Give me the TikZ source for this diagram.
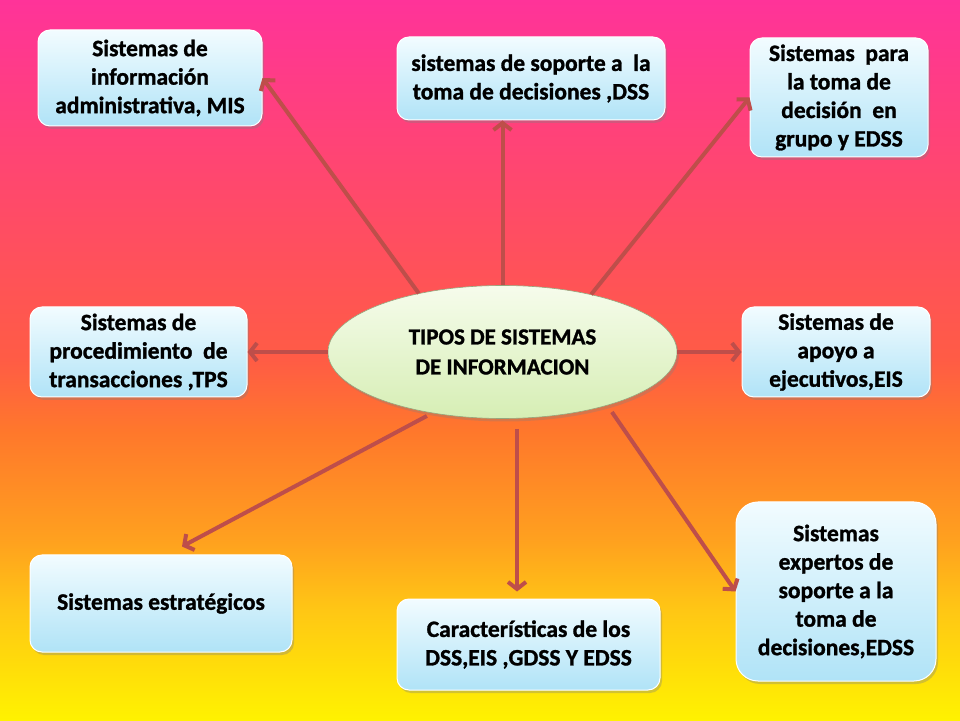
\documentclass[tikz,border=0pt]{standalone}
\usepackage{fontspec}
\setmainfont{Carlito}[BoldFeatures={FakeBold=1.2}]
\usetikzlibrary{shapes.geometric,arrows.meta,shadows,calc}
\definecolor{flechared}{RGB}{190,78,74}
\definecolor{boxtop}{RGB}{242,252,255}
\definecolor{boxbot}{RGB}{176,227,247}
\definecolor{elltop}{RGB}{246,252,236}
\definecolor{ellbot}{RGB}{214,238,180}
\pgfdeclareverticalshading{fondo}{100bp}{rgb(0bp)=(1,.95,0); rgb(25bp)=(1,.95,0); rgb(32.6bp)=(1,.78,.08); rgb(37.5bp)=(1,.63,.12); rgb(45bp)=(1,.47,.17); rgb(50bp)=(1,.36,.27); rgb(62.5bp)=(1,.28,.43); rgb(75bp)=(1,.2,.6); rgb(100bp)=(1,.2,.6)}

\begin{document}
\begin{tikzpicture}[x=1pt,y=1pt,
    sisbox/.style={rectangle,rounded corners=12pt,draw=white,line width=1pt,
      top color=boxtop,bottom color=boxbot,align=center,inner sep=2pt,
      font=\bfseries\fontsize{23.5}{28.5}\selectfont,
      drop shadow={shadow xshift=2pt,shadow yshift=-3pt,opacity=.35}},
    centro/.style={ellipse,draw=ellbot!70!black,line width=.6pt,top color=elltop,
      bottom color=ellbot,minimum width=349pt,minimum height=133pt,inner sep=0pt,
      align=center,font=\bfseries\fontsize{23}{30}\selectfont,
      drop shadow={shadow xshift=2pt,shadow yshift=-3pt,opacity=.3}},
    flecha/.style={draw=flechared,line width=4pt,-{Straight Barb[length=7pt,width=18pt]}}]
  \useasboundingbox (0,0) rectangle (960,720);
  \fill[shading=fondo] (0,0) rectangle (960,720);
  \node[centro] (c) at (502.5,368) {TIPOS DE SISTEMAS\\DE INFORMACION};
  \node[sisbox,minimum width=224pt,minimum height=96pt] (mis) at (150,642)
    {Sistemas de\\información\\administrativa, MIS};
  \node[sisbox,minimum width=268pt,minimum height=83pt] (dss) at (531,641.5)
    {sistemas de soporte a\ \ la\\toma de decisiones ,DSS};
  \node[sisbox,minimum width=178pt,minimum height=119pt] (gdss) at (839,622.5)
    {Sistemas\ \ para\\la toma de\\decisión\ \ en\\grupo y EDSS};
  \node[sisbox,minimum width=217pt,minimum height=90pt] (tps) at (138.5,368)
    {Sistemas de\\procedimiento\ \ de\\transacciones ,TPS};
  \node[sisbox,minimum width=188pt,minimum height=90pt] (eis) at (836,368)
    {Sistemas de\\apoyo a\\ejecutivos,EIS};
  \node[sisbox,minimum width=262pt,minimum height=97pt] (est) at (161,116.5)
    {Sistemas estratégicos};
  \node[sisbox,minimum width=263pt,minimum height=91pt] (car) at (528.5,75.5)
    {Características de los\\DSS,EIS ,GDSS Y EDSS};
  \node[sisbox,minimum width=200pt,minimum height=179pt,rounded corners=22pt] (edss) at (836,128.5)
    {Sistemas\\expertos de\\soporte a la\\toma de\\decisiones,EDSS};
  \draw[flecha] (c.145.5) -- (mis.east);
  \draw[flecha] (c.north) -- (c.north |- dss.south);
  \draw[flecha] (c.33) -- (gdss.west);
  \draw[flecha] (c.west) -- (tps.east);
  \draw[flecha] (c.east) -- (eis.west);
  \draw[flecha,shorten <=6pt] (c.221) -- ($(est.north)+(21,8)$);
  \draw[flecha] ($(c.south)+(14.5,-10)$) -- ($(car.north)+(-11.5,7)$);
  \draw[flecha,shorten <=8pt] (c.333) -- (edss.west);
\end{tikzpicture}
\end{document}
